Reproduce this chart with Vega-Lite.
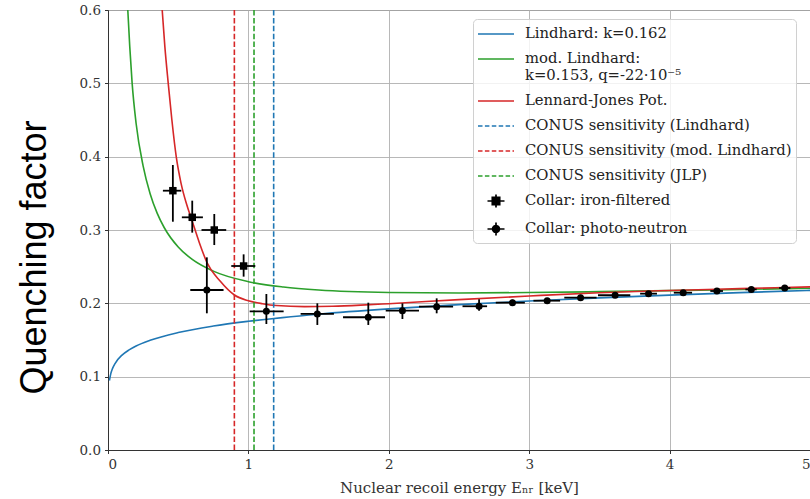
{
  "$schema": "https://vega.github.io/schema/vega-lite/v6.json",
  "width": 702,
  "height": 440,
  "autosize": {"type": "none"},
  "padding": {"left": 108, "top": 10, "right": 0, "bottom": 49},
  "datasets": {
    "curves": [
      {"E": 0.01, "q": 0.0948, "series": "Lindhard: k=0.162"},
      {"E": 0.02, "q": 0.1042, "series": "Lindhard: k=0.162"},
      {"E": 0.03, "q": 0.1101, "series": "Lindhard: k=0.162"},
      {"E": 0.05, "q": 0.1179, "series": "Lindhard: k=0.162"},
      {"E": 0.1, "q": 0.1294, "series": "Lindhard: k=0.162"},
      {"E": 0.15, "q": 0.1365, "series": "Lindhard: k=0.162"},
      {"E": 0.2, "q": 0.1419, "series": "Lindhard: k=0.162"},
      {"E": 0.3, "q": 0.1497, "series": "Lindhard: k=0.162"},
      {"E": 0.5, "q": 0.1602, "series": "Lindhard: k=0.162"},
      {"E": 0.75, "q": 0.169, "series": "Lindhard: k=0.162"},
      {"E": 1.0, "q": 0.1755, "series": "Lindhard: k=0.162"},
      {"E": 1.5, "q": 0.1852, "series": "Lindhard: k=0.162"},
      {"E": 2.0, "q": 0.1924, "series": "Lindhard: k=0.162"},
      {"E": 2.5, "q": 0.1982, "series": "Lindhard: k=0.162"},
      {"E": 3.0, "q": 0.2031, "series": "Lindhard: k=0.162"},
      {"E": 3.5, "q": 0.2074, "series": "Lindhard: k=0.162"},
      {"E": 4.0, "q": 0.2112, "series": "Lindhard: k=0.162"},
      {"E": 4.5, "q": 0.2146, "series": "Lindhard: k=0.162"},
      {"E": 5.0, "q": 0.2177, "series": "Lindhard: k=0.162"},
      {"E": 0.13, "q": 0.635, "series": "mod. Lindhard: k=0.153, q=-22·10⁻⁵"},
      {"E": 0.141, "q": 0.6, "series": "mod. Lindhard: k=0.153, q=-22·10⁻⁵"},
      {"E": 0.155, "q": 0.55, "series": "mod. Lindhard: k=0.153, q=-22·10⁻⁵"},
      {"E": 0.172, "q": 0.5, "series": "mod. Lindhard: k=0.153, q=-22·10⁻⁵"},
      {"E": 0.2, "q": 0.4456, "series": "mod. Lindhard: k=0.153, q=-22·10⁻⁵"},
      {"E": 0.25, "q": 0.3875, "series": "mod. Lindhard: k=0.153, q=-22·10⁻⁵"},
      {"E": 0.3, "q": 0.3495, "series": "mod. Lindhard: k=0.153, q=-22·10⁻⁵"},
      {"E": 0.35, "q": 0.323, "series": "mod. Lindhard: k=0.153, q=-22·10⁻⁵"},
      {"E": 0.4, "q": 0.3034, "series": "mod. Lindhard: k=0.153, q=-22·10⁻⁵"},
      {"E": 0.5, "q": 0.2768, "series": "mod. Lindhard: k=0.153, q=-22·10⁻⁵"},
      {"E": 0.6, "q": 0.2599, "series": "mod. Lindhard: k=0.153, q=-22·10⁻⁵"},
      {"E": 0.75, "q": 0.2439, "series": "mod. Lindhard: k=0.153, q=-22·10⁻⁵"},
      {"E": 1.0, "q": 0.2295, "series": "mod. Lindhard: k=0.153, q=-22·10⁻⁵"},
      {"E": 1.25, "q": 0.2222, "series": "mod. Lindhard: k=0.153, q=-22·10⁻⁵"},
      {"E": 1.5, "q": 0.2181, "series": "mod. Lindhard: k=0.153, q=-22·10⁻⁵"},
      {"E": 2.0, "q": 0.2148, "series": "mod. Lindhard: k=0.153, q=-22·10⁻⁵"},
      {"E": 2.5, "q": 0.2141, "series": "mod. Lindhard: k=0.153, q=-22·10⁻⁵"},
      {"E": 3.0, "q": 0.2147, "series": "mod. Lindhard: k=0.153, q=-22·10⁻⁵"},
      {"E": 3.5, "q": 0.2159, "series": "mod. Lindhard: k=0.153, q=-22·10⁻⁵"},
      {"E": 4.0, "q": 0.2173, "series": "mod. Lindhard: k=0.153, q=-22·10⁻⁵"},
      {"E": 4.5, "q": 0.2189, "series": "mod. Lindhard: k=0.153, q=-22·10⁻⁵"},
      {"E": 5.0, "q": 0.2205, "series": "mod. Lindhard: k=0.153, q=-22·10⁻⁵"},
      {"E": 0.37, "q": 0.65, "series": "Lennard-Jones Pot."},
      {"E": 0.386, "q": 0.6, "series": "Lennard-Jones Pot."},
      {"E": 0.405, "q": 0.55, "series": "Lennard-Jones Pot."},
      {"E": 0.429, "q": 0.5, "series": "Lennard-Jones Pot."},
      {"E": 0.455, "q": 0.45, "series": "Lennard-Jones Pot."},
      {"E": 0.486, "q": 0.4, "series": "Lennard-Jones Pot."},
      {"E": 0.52, "q": 0.364, "series": "Lennard-Jones Pot."},
      {"E": 0.56, "q": 0.335, "series": "Lennard-Jones Pot."},
      {"E": 0.6, "q": 0.312, "series": "Lennard-Jones Pot."},
      {"E": 0.65, "q": 0.283, "series": "Lennard-Jones Pot."},
      {"E": 0.704, "q": 0.256, "series": "Lennard-Jones Pot."},
      {"E": 0.8, "q": 0.23, "series": "Lennard-Jones Pot."},
      {"E": 0.9, "q": 0.2114, "series": "Lennard-Jones Pot."},
      {"E": 1.0, "q": 0.2035, "series": "Lennard-Jones Pot."},
      {"E": 1.1, "q": 0.1995, "series": "Lennard-Jones Pot."},
      {"E": 1.2, "q": 0.197, "series": "Lennard-Jones Pot."},
      {"E": 1.4, "q": 0.1955, "series": "Lennard-Jones Pot."},
      {"E": 1.6, "q": 0.196, "series": "Lennard-Jones Pot."},
      {"E": 1.8, "q": 0.1975, "series": "Lennard-Jones Pot."},
      {"E": 2.0, "q": 0.1995, "series": "Lennard-Jones Pot."},
      {"E": 2.5, "q": 0.205, "series": "Lennard-Jones Pot."},
      {"E": 3.0, "q": 0.21, "series": "Lennard-Jones Pot."},
      {"E": 3.5, "q": 0.2145, "series": "Lennard-Jones Pot."},
      {"E": 4.0, "q": 0.2175, "series": "Lennard-Jones Pot."},
      {"E": 4.5, "q": 0.22, "series": "Lennard-Jones Pot."},
      {"E": 5.0, "q": 0.2225, "series": "Lennard-Jones Pot."}
    ],
    "vlines": [
      {"E": 1.18, "series": "CONUS sensitivity (Lindhard)"},
      {"E": 0.90, "series": "CONUS sensitivity (mod. Lindhard)"},
      {"E": 1.04, "series": "CONUS sensitivity (JLP)"}
    ],
    "points": [
      {"E": 0.462, "q": 0.3536, "Elo": 0.391, "Ehi": 0.522, "qlo": 0.3113, "qhi": 0.3886, "series": "Collar: iron-filtered"},
      {"E": 0.600, "q": 0.3173, "Elo": 0.526, "Ehi": 0.676, "qlo": 0.2964, "qhi": 0.340, "series": "Collar: iron-filtered"},
      {"E": 0.757, "q": 0.300, "Elo": 0.666, "Ehi": 0.842, "qlo": 0.2795, "qhi": 0.3218, "series": "Collar: iron-filtered"},
      {"E": 0.966, "q": 0.2509, "Elo": 0.878, "Ehi": 1.049, "qlo": 0.2364, "qhi": 0.2668, "series": "Collar: iron-filtered"},
      {"E": 0.704, "q": 0.2182, "Elo": 0.586, "Ehi": 0.823, "qlo": 0.1864, "qhi": 0.2627, "series": "Collar: photo-neutron"},
      {"E": 1.128, "q": 0.1891, "Elo": 1.009, "Ehi": 1.251, "qlo": 0.1718, "qhi": 0.2127, "series": "Collar: photo-neutron"},
      {"E": 1.491, "q": 0.1855, "Elo": 1.372, "Ehi": 1.609, "qlo": 0.1705, "qhi": 0.2, "series": "Collar: photo-neutron"},
      {"E": 1.854, "q": 0.181, "Elo": 1.674, "Ehi": 1.973, "qlo": 0.1705, "qhi": 0.2009, "series": "Collar: photo-neutron"},
      {"E": 2.097, "q": 0.19, "Elo": 1.978, "Ehi": 2.215, "qlo": 0.1786, "qhi": 0.2, "series": "Collar: photo-neutron"},
      {"E": 2.341, "q": 0.1955, "Elo": 2.215, "Ehi": 2.458, "qlo": 0.1864, "qhi": 0.2068, "series": "Collar: photo-neutron"},
      {"E": 2.643, "q": 0.196, "Elo": 2.525, "Ehi": 2.70, "qlo": 0.19, "qhi": 0.2055, "series": "Collar: photo-neutron"},
      {"E": 2.881, "q": 0.2009, "Elo": 2.762, "Ehi": 2.969, "qlo": 0.197, "qhi": 0.205, "series": "Collar: photo-neutron"},
      {"E": 3.128, "q": 0.2036, "Elo": 3.03, "Ehi": 3.22, "qlo": 0.2005, "qhi": 0.2068, "series": "Collar: photo-neutron"},
      {"E": 3.366, "q": 0.2077, "Elo": 3.25, "Ehi": 3.48, "qlo": 0.2045, "qhi": 0.2115, "series": "Collar: photo-neutron"},
      {"E": 3.612, "q": 0.211, "Elo": 3.49, "Ehi": 3.72, "qlo": 0.208, "qhi": 0.2145, "series": "Collar: photo-neutron"},
      {"E": 3.850, "q": 0.2132, "Elo": 3.79, "Ehi": 3.91, "qlo": 0.2105, "qhi": 0.2158, "series": "Collar: photo-neutron"},
      {"E": 4.097, "q": 0.2145, "Elo": 4.03, "Ehi": 4.16, "qlo": 0.212, "qhi": 0.217, "series": "Collar: photo-neutron"},
      {"E": 4.337, "q": 0.2168, "Elo": 4.29, "Ehi": 4.38, "qlo": 0.2148, "qhi": 0.2188, "series": "Collar: photo-neutron"},
      {"E": 4.582, "q": 0.219, "Elo": 4.54, "Ehi": 4.62, "qlo": 0.2172, "qhi": 0.2208, "series": "Collar: photo-neutron"},
      {"E": 4.820, "q": 0.2209, "Elo": 4.78, "Ehi": 4.86, "qlo": 0.219, "qhi": 0.2228, "series": "Collar: photo-neutron"}
    ]
  },
  "layer": [
    {
      "data": {"name": "curves"},
      "mark": {"type": "line", "clip": true, "strokeWidth": 1.6, "interpolate": "monotone"},
      "encoding": {
        "x": {"field": "E", "type": "quantitative", "scale": {"domain": [0, 5], "nice": false},
          "axis": {"values": [0, 1, 2, 3, 4, 5], "format": "d", "title": "Nuclear recoil energy Eₙᵣ [keV]"}},
        "y": {"field": "q", "type": "quantitative", "scale": {"domain": [0, 0.6], "nice": false},
          "axis": {"values": [0, 0.1, 0.2, 0.3, 0.4, 0.5, 0.6], "format": ".1f", "title": "Quenching factor",
            "titleFont": "Liberation Sans", "titleFontSize": 36, "titleFontWeight": "normal", "titleColor": "#000",
            "titleAngle": 270, "titleX": -74, "titleY": 247, "titleAlign": "center", "titleBaseline": "middle"}},
        "color": {"field": "series", "type": "nominal",
          "scale": {
            "domain": ["Lindhard: k=0.162", "mod. Lindhard: k=0.153, q=-22·10⁻⁵", "Lennard-Jones Pot.", "CONUS sensitivity (Lindhard)", "CONUS sensitivity (mod. Lindhard)", "CONUS sensitivity (JLP)", "Collar: iron-filtered", "Collar: photo-neutron"],
            "range": ["#1f77b4", "#2ca02c", "#d62728", "#1f77b4", "#d62728", "#2ca02c", "#000000", "#000000"]
          },
          "legend": {
            "orient": "none", "legendX": 365, "legendY": 9, "title": null,
            "labelFont": "DejaVu Serif", "labelFontSize": 14.8, "labelColor": "#222", "labelLimit": 400,
            "padding": 4, "fillColor": "rgba(255,255,255,0.82)", "strokeColor": "#d0d0d0", "cornerRadius": 4,
            "symbolType": "M-1.8,0H1.8", "symbolSize": 400, "symbolStrokeWidth": 1.7, "symbolOffset": 8,
            "symbolFillColor": "#000",
            "labelOffset": 18, "rowPadding": 7,
            "labelExpr": "datum.label == 'mod. Lindhard: k=0.153, q=-22·10⁻⁵' ? ['mod. Lindhard:', 'k=0.153, q=-22·10⁻⁵'] : datum.label",
            "encode": {
              "symbols": {
                "update": {
                  "shape": {"signal": "indexof(datum.value,'Collar')==0 ? (indexof(datum.value,'iron')>0 ? 'M-0.85,0H0.85M0,-0.65V0.65M-0.37,-0.37H0.37V0.37H-0.37Z' : 'M-0.85,0H0.85M0,-0.65V0.65M0.34,0A0.34,0.34,0,1,1,-0.34,0A0.34,0.34,0,1,1,0.34,0Z') : 'M-1.8,0H1.8'"},
                  "strokeDash": {"signal": "indexof(datum.value,'CONUS')==0 ? [4.5, 2.4] : [1, 0]"}
                }
              }
            }
          }
        }
      }
    },
    {
      "data": {"name": "vlines"},
      "mark": {"type": "rule", "strokeWidth": 1.6, "strokeDash": [5.5, 2.4]},
      "encoding": {
        "x": {"field": "E", "type": "quantitative"},
        "color": {"field": "series", "type": "nominal"}
      }
    },
    {
      "data": {"name": "points"},
      "mark": {"type": "rule", "strokeWidth": 1.8},
      "encoding": {
        "x": {"field": "Elo", "type": "quantitative"},
        "x2": {"field": "Ehi"},
        "y": {"field": "q", "type": "quantitative"},
        "color": {"field": "series", "type": "nominal"}
      }
    },
    {
      "data": {"name": "points"},
      "mark": {"type": "rule", "strokeWidth": 1.8},
      "encoding": {
        "x": {"field": "E", "type": "quantitative"},
        "y": {"field": "qlo", "type": "quantitative"},
        "y2": {"field": "qhi"},
        "color": {"field": "series", "type": "nominal"}
      }
    },
    {
      "data": {"name": "points"},
      "transform": [{"filter": "datum.series == 'Collar: iron-filtered'"}],
      "mark": {"type": "point", "shape": "square", "filled": true, "size": 56, "opacity": 1},
      "encoding": {
        "x": {"field": "E", "type": "quantitative"},
        "y": {"field": "q", "type": "quantitative"},
        "color": {"field": "series", "type": "nominal"}
      }
    },
    {
      "data": {"name": "points"},
      "transform": [{"filter": "datum.series == 'Collar: photo-neutron'"}],
      "mark": {"type": "point", "shape": "circle", "filled": true, "size": 49, "opacity": 1},
      "encoding": {
        "x": {"field": "E", "type": "quantitative"},
        "y": {"field": "q", "type": "quantitative"},
        "color": {"field": "series", "type": "nominal"}
      }
    }
  ],
  "config": {
    "view": {"stroke": "#333", "strokeWidth": 1},
    "axis": {
      "labelFont": "DejaVu Serif", "labelFontSize": 13.5, "labelColor": "#333",
      "titleFont": "DejaVu Serif", "titleFontSize": 15, "titleFontWeight": "normal", "titleColor": "#333",
      "domainColor": "#333", "tickColor": "#333", "tickSize": 3.5, "labelPadding": 4,
      "gridColor": "#b0b0b0", "gridWidth": 0.9, "gridOpacity": 1
    },
    "axisX": {"titlePadding": 9}
  }
}
